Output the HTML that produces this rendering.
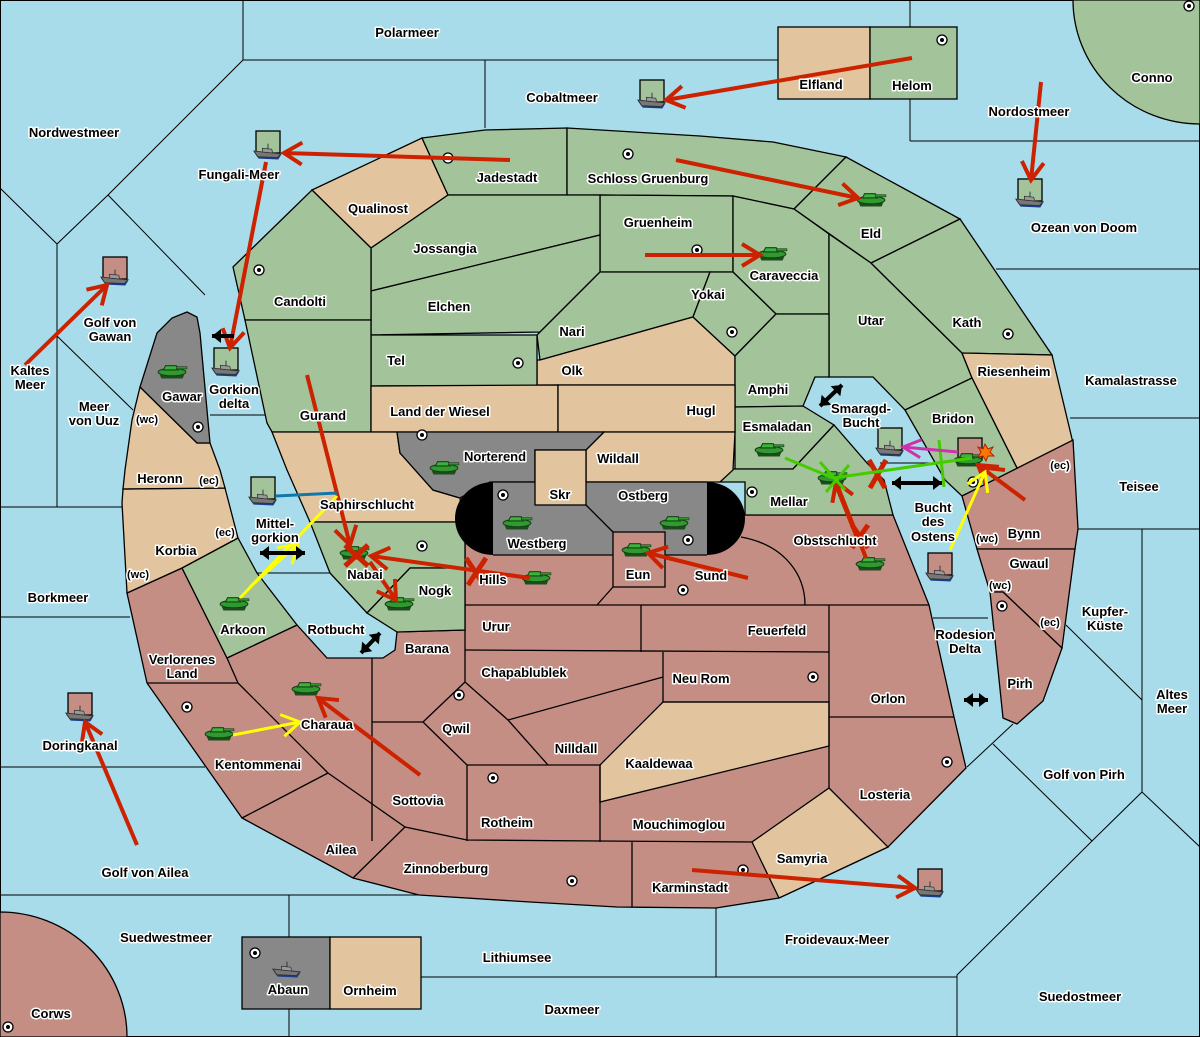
<!DOCTYPE html>
<html><head><meta charset="utf-8"><style>
html,body{margin:0;padding:0;background:#a8dcea;}
svg{display:block;}
text{font-family:"Liberation Sans",sans-serif;font-weight:bold;font-size:13px;fill:#000;stroke:#fff;stroke-width:3px;paint-order:stroke;stroke-linejoin:round;text-anchor:middle;}
text.s{font-size:11px;}
.l{stroke:#000;stroke-width:1.3;}
.g{fill:#a3c49a;}.t{fill:#e2c59e;}.r{fill:#c48e84;}.y{fill:#888;}
.sl{stroke:#000;stroke-width:1;fill:none;}
</style></head><body>
<svg width="1200" height="1037" viewBox="0 0 1200 1037" xmlns="http://www.w3.org/2000/svg">
<defs>
<symbol id="tank" viewBox="0 0 30 16" overflow="visible">
<path d="M3,10 L27,10 L25,15 L5,15 Z" fill="#1d4d1d"/>
<ellipse cx="15" cy="9" rx="13" ry="3.5" fill="#2f9a2f" stroke="#164016" stroke-width="1"/>
<path d="M9,3 L19,3 L21,7 L7,7 Z" fill="#3cb43c" stroke="#164016" stroke-width="1"/>
<rect x="19" y="4" width="10" height="2" fill="#2f9a2f" stroke="#164016" stroke-width=".6"/>
</symbol>
<symbol id="ship" viewBox="0 0 32 18" overflow="visible">
<path d="M1,9 L30,12 L27,17 L6,16 Z" fill="#1a3d8a"/>
<path d="M1,8 L30,11 L26,15 L5,14 Z" fill="#777" stroke="#333" stroke-width="1"/>
<path d="M10,5 L20,6 L21,10 L10,9 Z" fill="#999" stroke="#333" stroke-width=".8"/>
<line x1="16" y1="0" x2="16" y2="6" stroke="#333" stroke-width="1"/>
</symbol>
<symbol id="sc" viewBox="-6 -6 12 12" overflow="visible">
<circle r="5" fill="#fff" stroke="#000" stroke-width="1.3"/><circle r="2" fill="#000"/>
</symbol>
<marker id="ar" markerUnits="userSpaceOnUse" markerWidth="30" markerHeight="30" refX="0" refY="0" viewBox="-20 -15 30 30" orient="auto"><path d="M-18,-11 L0,0 L-18,11" fill="none" stroke="#cc2200" stroke-width="4"/></marker>
<marker id="ay" markerUnits="userSpaceOnUse" markerWidth="30" markerHeight="30" refX="0" refY="0" viewBox="-20 -15 30 30" orient="auto"><path d="M-18,-11 L0,0 L-18,11" fill="none" stroke="#ffff00" stroke-width="3"/></marker>
<marker id="am" markerUnits="userSpaceOnUse" markerWidth="30" markerHeight="30" refX="0" refY="0" viewBox="-20 -15 30 30" orient="auto"><path d="M-18,-9 L0,0 L-18,9" fill="none" stroke="#cc33aa" stroke-width="3"/></marker>
<marker id="ab" markerUnits="userSpaceOnUse" markerWidth="16" markerHeight="16" refX="0" refY="0" viewBox="-10 -8 16 16" orient="auto-start-reverse"><path d="M-9,-7 L0,0 L-9,7 Z" fill="#000"/></marker>
</defs>
<rect x="0" y="0" width="1200" height="1037" fill="#a8dcea"/>
<g class="sl">
<polyline points="243,0 243,60 778,60"/>
<line x1="485" y1="60" x2="485" y2="128"/>
<line x1="910" y1="0" x2="910" y2="27"/><line x1="910" y1="99" x2="910" y2="141"/>
<line x1="910" y1="141" x2="1200" y2="141"/>
<line x1="996" y1="269" x2="1200" y2="269"/>
<line x1="1070" y1="418" x2="1200" y2="418"/>
<line x1="1078" y1="529" x2="1200" y2="529"/>
<line x1="1142" y1="529" x2="1142" y2="792"/>
<polyline points="1066,625 1142,700"/>
<polyline points="1200,847 1142,792 1092,841 957,975 957,1037"/>
<polyline points="993,744 1092,841"/>
<polyline points="967,767 1013,724"/>
<polyline points="243,60 108,195 57,244 0,188"/>
<line x1="108" y1="195" x2="205" y2="295"/>
<line x1="57" y1="244" x2="57" y2="507"/>
<line x1="57" y1="336" x2="133" y2="410"/>
<line x1="0" y1="507" x2="123" y2="507"/>
<line x1="0" y1="617" x2="130" y2="617"/>
<line x1="0" y1="767" x2="205" y2="767"/>
<line x1="0" y1="895" x2="419" y2="895"/>
<line x1="289" y1="895" x2="289" y2="937"/><line x1="289" y1="1009" x2="289" y2="1037"/>
<line x1="421" y1="977" x2="957" y2="977"/>
<line x1="716" y1="908" x2="716" y2="977"/>
<line x1="210" y1="415" x2="265" y2="415"/>
<line x1="257" y1="573" x2="330" y2="573"/>
<line x1="933" y1="618" x2="988" y2="618"/>
<line x1="880" y1="463" x2="930" y2="463"/>
<rect x="0.5" y="0.5" width="1199" height="1036"/>
</g>
<path d="M1073,0 A127,124 0 0 0 1200,124 L1200,0 Z" class="g l"/>
<path d="M0,912 A127,125 0 0 1 127,1037 L0,1037 Z" class="r l"/>
<rect x="778" y="27" width="92" height="72" class="t l"/>
<rect x="870" y="27" width="87" height="72" class="g l"/>
<rect x="242" y="937" width="88" height="72" class="y l"/>
<rect x="330" y="937" width="91" height="72" class="t l"/>
<polygon class="r l" points="465,520 745,515 893,515 929,605 954,717 966,768 888,847 822,878 779,898 716,908 617,907 530,902 419,895 353,878 242,818 147,683 127,593 182,568 227,658 297,625 327,658 383,658 395,650 397,632 465,630"/>
<polygon class="t l" points="829,788 888,847 822,878 779,898 752,842"/>
<polygon class="t l" points="663,702 829,702 829,746 600,802 600,765"/>
<g class="l" fill="none">
<line x1="465" y1="605" x2="929" y2="605"/>
<line x1="641" y1="605" x2="641" y2="652"/>
<line x1="829" y1="605" x2="829" y2="788"/>
<line x1="465" y1="650" x2="829" y2="652"/>
<polyline points="663,652 663,702 829,702"/>
<line x1="829" y1="717" x2="954" y2="717"/>
<line x1="508" y1="720" x2="663" y2="677"/>
<line x1="372" y1="658" x2="372" y2="841"/>
<line x1="372" y1="722" x2="423" y2="722"/>
<line x1="465" y1="630" x2="465" y2="682"/>
<polyline points="423,722 465,682 508,720 548,765"/>
<polyline points="423,722 467,765 600,765"/>
<line x1="467" y1="765" x2="467" y2="841"/>
<line x1="600" y1="765" x2="600" y2="842"/>
<polyline points="405,827 467,840 600,841 752,842"/>
<line x1="632" y1="842" x2="632" y2="907"/>
<line x1="328" y1="773" x2="405" y2="827"/>
<line x1="238" y1="683" x2="328" y2="773"/>
<line x1="147" y1="683" x2="238" y2="683"/>
<line x1="227" y1="658" x2="238" y2="683"/>
<line x1="242" y1="818" x2="328" y2="773"/>
<line x1="353" y1="878" x2="405" y2="827"/>
<path d="M741,537 C785,545 805,575 805,605"/>
<line x1="613" y1="587" x2="597" y2="605"/>
</g>
<polygon class="t l" points="312,190 422,138 448,195 371,248"/>
<polygon class="g l" points="422,138 485,130 567,128 567,195 448,195"/>
<polygon class="g l" points="567,128 700,136 773,142 846,157 794,209 733,196 600,195 567,195"/>
<polygon class="g l" points="600,195 733,196 733,272 600,272"/>
<polygon class="g l" points="846,157 960,219 871,263 794,209"/>
<polygon class="g l" points="733,196 794,209 829,234 829,314 776,314 733,272"/>
<polygon class="g l" points="829,234 871,263 962,353 972,378 905,410 873,377 829,377"/>
<polygon class="g l" points="960,219 1052,355 962,353 871,263"/>
<polygon class="t l" points="962,353 1052,355 1073,443 1018,470 972,378"/>
<polygon class="g l" points="905,410 972,378 1018,470 962,496 945,480"/>
<polygon class="r l" points="962,496 1073,440 1078,529 1075,549 977,549"/>
<polygon class="r l" points="977,549 1075,549 1062,648 1003,592 990,592"/>
<polygon class="r l" points="990,592 1003,592 1062,648 1043,701 1017,724 1003,718"/>
<polygon class="g l" points="371,248 448,195 600,195 600,235 371,291"/>
<polygon class="g l" points="371,291 600,235 600,272 540,332 371,335"/>
<polygon class="g l" points="600,272 710,272 693,317 540,360 537,335 540,332"/>
<polygon class="t l" points="540,360 693,317 735,356 735,385 537,385 537,360"/>
<polygon class="g l" points="371,335 537,335 537,386 371,386"/>
<polygon class="g l" points="233,267 312,190 371,248 371,320 245,320"/>
<polygon class="g l" points="245,320 371,320 371,432 272,432 267,423"/>
<polygon class="g l" points="710,272 733,272 776,314 735,356 693,317"/>
<polygon class="g l" points="735,356 776,314 829,314 829,377 815,377 803,406 735,407"/>
<polygon class="g l" points="735,407 803,406 834,425 793,469 735,469"/>
<polygon class="g l" points="720,482 733,469 793,469 834,425 867,463 884,480 893,515 745,515 745,482"/>
<polygon class="t l" points="371,386 558,385 558,432 371,432"/>
<polygon class="t l" points="558,385 735,385 735,432 558,432"/>
<polygon class="t l" points="604,432 735,432 733,470 720,482 586,482 586,450"/>
<polygon class="t l" points="272,432 397,432 400,453 433,490 460,498 463,522 310,522 287,470"/>
<polygon class="y l" points="397,432 604,432 586,450 535,450 535,482 490,482 460,498 433,490 400,453"/>
<polygon class="g l" points="310,522 465,522 465,568 410,568 367,613 330,573"/>
<polygon class="g l" points="410,568 465,568 465,630 397,632 367,613"/>
<polygon class="g l" points="182,568 238,538 257,573 297,625 227,658"/>
<polygon class="t l" points="123,489 225,488 238,538 182,568 127,593 122,503"/>
<polygon class="t l" points="140,387 197,443 210,443 220,470 225,488 123,489 125,470 132,420"/>
<polygon class="y l" points="140,387 157,333 172,318 187,312 197,317 200,333 210,443 197,443"/>
<rect x="493" y="482" width="214" height="73" fill="#888"/>
<path d="M493,482 A38,36.5 0 0 0 493,555 Z" fill="#000"/>
<path d="M707,482 A38,36.5 0 0 1 707,555 Z" fill="#000"/>
<line x1="493" y1="482" x2="707" y2="482" class="l"/>
<line x1="493" y1="555" x2="707" y2="555" class="l"/>
<polyline points="586,505 613,532" class="l" fill="none"/>
<rect x="613" y="532" width="52" height="55" class="r l"/>
<rect x="535" y="450" width="51" height="55" class="t l"/>
<g>
<use href="#sc" x="442" y="152" width="12" height="12"/>
<use href="#sc" x="622" y="148" width="12" height="12"/>
<use href="#sc" x="691" y="244" width="12" height="12"/>
<use href="#sc" x="726" y="326" width="12" height="12"/>
<use href="#sc" x="1002" y="328" width="12" height="12"/>
<use href="#sc" x="253" y="264" width="12" height="12"/>
<use href="#sc" x="512" y="357" width="12" height="12"/>
<use href="#sc" x="192" y="421" width="12" height="12"/>
<use href="#sc" x="416" y="429" width="12" height="12"/>
<use href="#sc" x="497" y="489" width="12" height="12"/>
<use href="#sc" x="746" y="486" width="12" height="12"/>
<use href="#sc" x="682" y="534" width="12" height="12"/>
<use href="#sc" x="677" y="584" width="12" height="12"/>
<use href="#sc" x="416" y="540" width="12" height="12"/>
<use href="#sc" x="453" y="689" width="12" height="12"/>
<use href="#sc" x="181" y="701" width="12" height="12"/>
<use href="#sc" x="487" y="772" width="12" height="12"/>
<use href="#sc" x="807" y="671" width="12" height="12"/>
<use href="#sc" x="941" y="756" width="12" height="12"/>
<use href="#sc" x="737" y="864" width="12" height="12"/>
<use href="#sc" x="566" y="875" width="12" height="12"/>
<use href="#sc" x="967" y="476" width="12" height="12"/>
<use href="#sc" x="996" y="600" width="12" height="12"/>
<use href="#sc" x="936" y="34" width="12" height="12"/>
<use href="#sc" x="249" y="947" width="12" height="12"/>
<use href="#sc" x="2" y="1021" width="12" height="12"/>
<use href="#sc" x="1183" y="0" width="12" height="12"/>
</g>
<g class="l">
<rect x="256" y="131" width="24" height="22" class="g"/>
<rect x="103" y="257" width="24" height="22" class="r"/>
<rect x="214" y="348" width="24" height="22" class="g"/>
<rect x="251" y="477" width="24" height="22" class="g"/>
<rect x="640" y="80" width="24" height="22" class="g"/>
<rect x="1018" y="179" width="24" height="22" class="g"/>
<rect x="878" y="428" width="24" height="22" class="g"/>
<rect x="928" y="553" width="24" height="22" class="r"/>
<rect x="958" y="438" width="24" height="22" class="r"/>
<rect x="68" y="693" width="24" height="22" class="r"/>
<rect x="918" y="869" width="24" height="22" class="r"/>
</g>
<g>
<use href="#ship" x="253" y="142" width="30" height="20"/>
<use href="#ship" x="100" y="268" width="30" height="20"/>
<use href="#ship" x="211" y="359" width="30" height="20"/>
<use href="#ship" x="248" y="488" width="30" height="20"/>
<use href="#ship" x="637" y="91" width="30" height="20"/>
<use href="#ship" x="1015" y="190" width="30" height="20"/>
<use href="#ship" x="875" y="439" width="30" height="20"/>
<use href="#ship" x="925" y="564" width="30" height="20"/>
<use href="#ship" x="65" y="704" width="30" height="20"/>
<use href="#ship" x="915" y="880" width="30" height="20"/>
<use href="#ship" x="272" y="960" width="30" height="20"/>
</g>
<g>
<use href="#tank" x="156" y="361" width="32" height="20"/>
<use href="#tank" x="428" y="457" width="32" height="20"/>
<use href="#tank" x="501" y="512" width="32" height="20"/>
<use href="#tank" x="658" y="512" width="32" height="20"/>
<use href="#tank" x="620" y="539" width="32" height="20"/>
<use href="#tank" x="520" y="567" width="32" height="20"/>
<use href="#tank" x="338" y="542" width="32" height="20"/>
<use href="#tank" x="383" y="593" width="32" height="20"/>
<use href="#tank" x="218" y="593" width="32" height="20"/>
<use href="#tank" x="290" y="678" width="32" height="20"/>
<use href="#tank" x="203" y="723" width="32" height="20"/>
<use href="#tank" x="753" y="439" width="32" height="20"/>
<use href="#tank" x="816" y="467" width="32" height="20"/>
<use href="#tank" x="854" y="553" width="32" height="20"/>
<use href="#tank" x="952" y="449" width="32" height="20"/>
<use href="#tank" x="855" y="189" width="32" height="20"/>
<use href="#tank" x="756" y="243" width="32" height="20"/>
</g>
<g stroke="#cc2200" stroke-width="5"><line x1="345" y1="545" x2="368" y2="566"/><line x1="368" y1="545" x2="345" y2="566"/></g>
<g fill="none" stroke-width="4" stroke="#cc2200">
<line x1="510" y1="160" x2="284" y2="153" marker-end="url(#ar)"/>
<line x1="266" y1="162" x2="230" y2="348" marker-end="url(#ar)"/>
<line x1="912" y1="58" x2="666" y2="100" marker-end="url(#ar)"/>
<line x1="1041" y1="82" x2="1031" y2="180" marker-end="url(#ar)"/>
<line x1="676" y1="160" x2="858" y2="198" marker-end="url(#ar)"/>
<line x1="645" y1="255" x2="760" y2="255" marker-end="url(#ar)"/>
<line x1="25" y1="365" x2="107" y2="285" marker-end="url(#ar)"/>
<line x1="307" y1="375" x2="350" y2="545" marker-end="url(#ar)"/>
<line x1="530" y1="578" x2="371" y2="556" marker-end="url(#ar)"/>
<line x1="370" y1="562" x2="396" y2="600" marker-end="url(#ar)"/>
<line x1="748" y1="578" x2="648" y2="553" marker-end="url(#ar)"/>
<line x1="420" y1="775" x2="318" y2="698" marker-end="url(#ar)"/>
<line x1="137" y1="845" x2="85" y2="722" marker-end="url(#ar)"/>
<line x1="692" y1="870" x2="915" y2="888" marker-end="url(#ar)"/>
<line x1="866" y1="558" x2="836" y2="482" marker-end="url(#ar)"/>
<line x1="836" y1="485" x2="860" y2="545"/>
<line x1="1025" y1="500" x2="978" y2="465" marker-end="url(#ar)"/>
<line x1="1005" y1="470" x2="978" y2="467"/>
</g>
<g stroke="#cc2200" stroke-width="5">
<line x1="466" y1="558" x2="484" y2="585"/><line x1="486" y1="558" x2="468" y2="585"/>
<line x1="869" y1="460" x2="885" y2="488"/><line x1="886" y1="460" x2="870" y2="488"/>
<line x1="852" y1="525" x2="868" y2="548"/><line x1="868" y1="525" x2="852" y2="548"/>
</g>
<g fill="none" stroke-width="3" stroke="#ffff00">
<line x1="240" y1="598" x2="337" y2="496"/>
<line x1="250" y1="587" x2="298" y2="544" marker-end="url(#ay)"/>
<line x1="233" y1="735" x2="300" y2="722" marker-end="url(#ay)"/>
<line x1="950" y1="550" x2="985" y2="472" marker-end="url(#ay)"/>
</g>
<g fill="none" stroke-width="3" stroke="#44cc00">
<line x1="785" y1="458" x2="833" y2="478"/>
<line x1="833" y1="478" x2="972" y2="458"/>
<line x1="939" y1="440" x2="944" y2="487"/>
<line x1="820" y1="462" x2="845" y2="490"/><line x1="849" y1="465" x2="826" y2="492"/>
</g>
<line x1="958" y1="452" x2="903" y2="447" stroke="#cc33aa" stroke-width="3" marker-end="url(#am)"/>
<line x1="276" y1="496" x2="337" y2="493" stroke="#1177aa" stroke-width="3"/>
<g stroke="#000" stroke-width="4">
<line x1="842" y1="385" x2="820" y2="406" marker-end="url(#ab)" marker-start="url(#ab)"/>
<line x1="260" y1="553" x2="305" y2="553" marker-end="url(#ab)" marker-start="url(#ab)"/>
<line x1="380" y1="633" x2="361" y2="653" marker-end="url(#ab)" marker-start="url(#ab)"/>
<line x1="964" y1="700" x2="988" y2="700" marker-end="url(#ab)" marker-start="url(#ab)"/>
<line x1="892" y1="483" x2="942" y2="483" marker-end="url(#ab)" marker-start="url(#ab)"/>
<line x1="234" y1="336" x2="212" y2="336" marker-end="url(#ab)"/>
</g>
<polygon points="985,444 988,449 993,447 990,452 994,456 988,456 986,461 983,456 978,457 981,452 978,447 983,449" fill="#ff7700" stroke="#aa2200" stroke-width="1"/>
<g>
<text x="407" y="37">Polarmeer</text>
<text x="562" y="102">Cobaltmeer</text>
<text x="821" y="89">Elfland</text>
<text x="912" y="90">Helom</text>
<text x="1152" y="82">Conno</text>
<text x="1029" y="116">Nordostmeer</text>
<text x="74" y="137">Nordwestmeer</text>
<text x="239" y="179">Fungali-Meer</text>
<text x="507" y="182">Jadestadt</text>
<text x="648" y="183">Schloss Gruenburg</text>
<text x="378" y="213">Qualinost</text>
<text x="1084" y="232">Ozean von Doom</text>
<text x="658" y="227">Gruenheim</text>
<text x="871" y="238">Eld</text>
<text x="445" y="253">Jossangia</text>
<text x="784" y="280">Caraveccia</text>
<text x="300" y="306">Candolti</text>
<text x="708" y="299">Yokai</text>
<text x="449" y="311">Elchen</text>
<text x="572" y="336">Nari</text>
<text x="871" y="325">Utar</text>
<text x="967" y="327">Kath</text>
<text x="110" y="327">Golf von</text><text x="110" y="341">Gawan</text>
<text x="396" y="365">Tel</text>
<text x="572" y="375">Olk</text>
<text x="1014" y="376">Riesenheim</text>
<text x="30" y="375">Kaltes</text><text x="30" y="389">Meer</text>
<text x="1131" y="385">Kamalastrasse</text>
<text x="182" y="401">Gawar</text>
<text x="234" y="394">Gorkion</text><text x="234" y="408">delta</text>
<text x="768" y="394">Amphi</text>
<text x="94" y="411">Meer</text><text x="94" y="425">von Uuz</text>
<text x="861" y="413">Smaragd-</text><text x="861" y="427">Bucht</text>
<text x="440" y="416">Land der Wiesel</text>
<text x="701" y="415">Hugl</text>
<text x="323" y="420">Gurand</text>
<text x="953" y="423">Bridon</text>
<text x="777" y="431">Esmaladan</text>
<text x="495" y="461">Norterend</text>
<text x="618" y="463">Wildall</text>
<text x="160" y="483">Heronn</text>
<text x="1139" y="491">Teisee</text>
<text x="560" y="499">Skr</text>
<text x="643" y="500">Ostberg</text>
<text x="789" y="506">Mellar</text>
<text x="367" y="509">Saphirschlucht</text>
<text x="933" y="512">Bucht</text><text x="933" y="526">des</text><text x="933" y="541">Ostens</text>
<text x="275" y="528">Mittel-</text><text x="275" y="542">gorkion</text>
<text x="1024" y="538">Bynn</text>
<text x="537" y="548">Westberg</text>
<text x="835" y="545">Obstschlucht</text>
<text x="176" y="555">Korbia</text>
<text x="1029" y="568">Gwaul</text>
<text x="365" y="579">Nabai</text>
<text x="638" y="579">Eun</text>
<text x="711" y="580">Sund</text>
<text x="493" y="584">Hills</text>
<text x="435" y="595">Nogk</text>
<text x="58" y="602">Borkmeer</text>
<text x="1105" y="616">Kupfer-</text><text x="1105" y="630">Küste</text>
<text x="496" y="631">Urur</text>
<text x="336" y="634">Rotbucht</text>
<text x="777" y="635">Feuerfeld</text>
<text x="243" y="634">Arkoon</text>
<text x="965" y="639">Rodesion</text><text x="965" y="653">Delta</text>
<text x="427" y="653">Barana</text>
<text x="182" y="664">Verlorenes</text><text x="182" y="678">Land</text>
<text x="524" y="677">Chapablublek</text>
<text x="701" y="683">Neu Rom</text>
<text x="1020" y="688">Pirh</text>
<text x="1172" y="699">Altes</text><text x="1172" y="713">Meer</text>
<text x="888" y="703">Orlon</text>
<text x="327" y="729">Charaua</text>
<text x="456" y="733">Qwil</text>
<text x="80" y="750">Doringkanal</text>
<text x="576" y="753">Nilldall</text>
<text x="659" y="768">Kaaldewaa</text>
<text x="258" y="769">Kentommenai</text>
<text x="1084" y="779">Golf von Pirh</text>
<text x="885" y="799">Losteria</text>
<text x="418" y="805">Sottovia</text>
<text x="507" y="827">Rotheim</text>
<text x="679" y="829">Mouchimoglou</text>
<text x="341" y="854">Ailea</text>
<text x="802" y="863">Samyria</text>
<text x="446" y="873">Zinnoberburg</text>
<text x="145" y="877">Golf von Ailea</text>
<text x="690" y="892">Karminstadt</text>
<text x="166" y="942">Suedwestmeer</text>
<text x="837" y="944">Froidevaux-Meer</text>
<text x="517" y="962">Lithiumsee</text>
<text x="288" y="994">Abaun</text>
<text x="370" y="995">Ornheim</text>
<text x="1080" y="1001">Suedostmeer</text>
<text x="572" y="1014">Daxmeer</text>
<text x="51" y="1018">Corws</text>
<text class="s" x="147" y="423">(wc)</text>
<text class="s" x="209" y="484">(ec)</text>
<text class="s" x="225" y="536">(ec)</text>
<text class="s" x="138" y="578">(wc)</text>
<text class="s" x="1060" y="469">(ec)</text>
<text class="s" x="987" y="542">(wc)</text>
<text class="s" x="1000" y="589">(wc)</text>
<text class="s" x="1050" y="626">(ec)</text>
</g>
</svg>
</body></html>
